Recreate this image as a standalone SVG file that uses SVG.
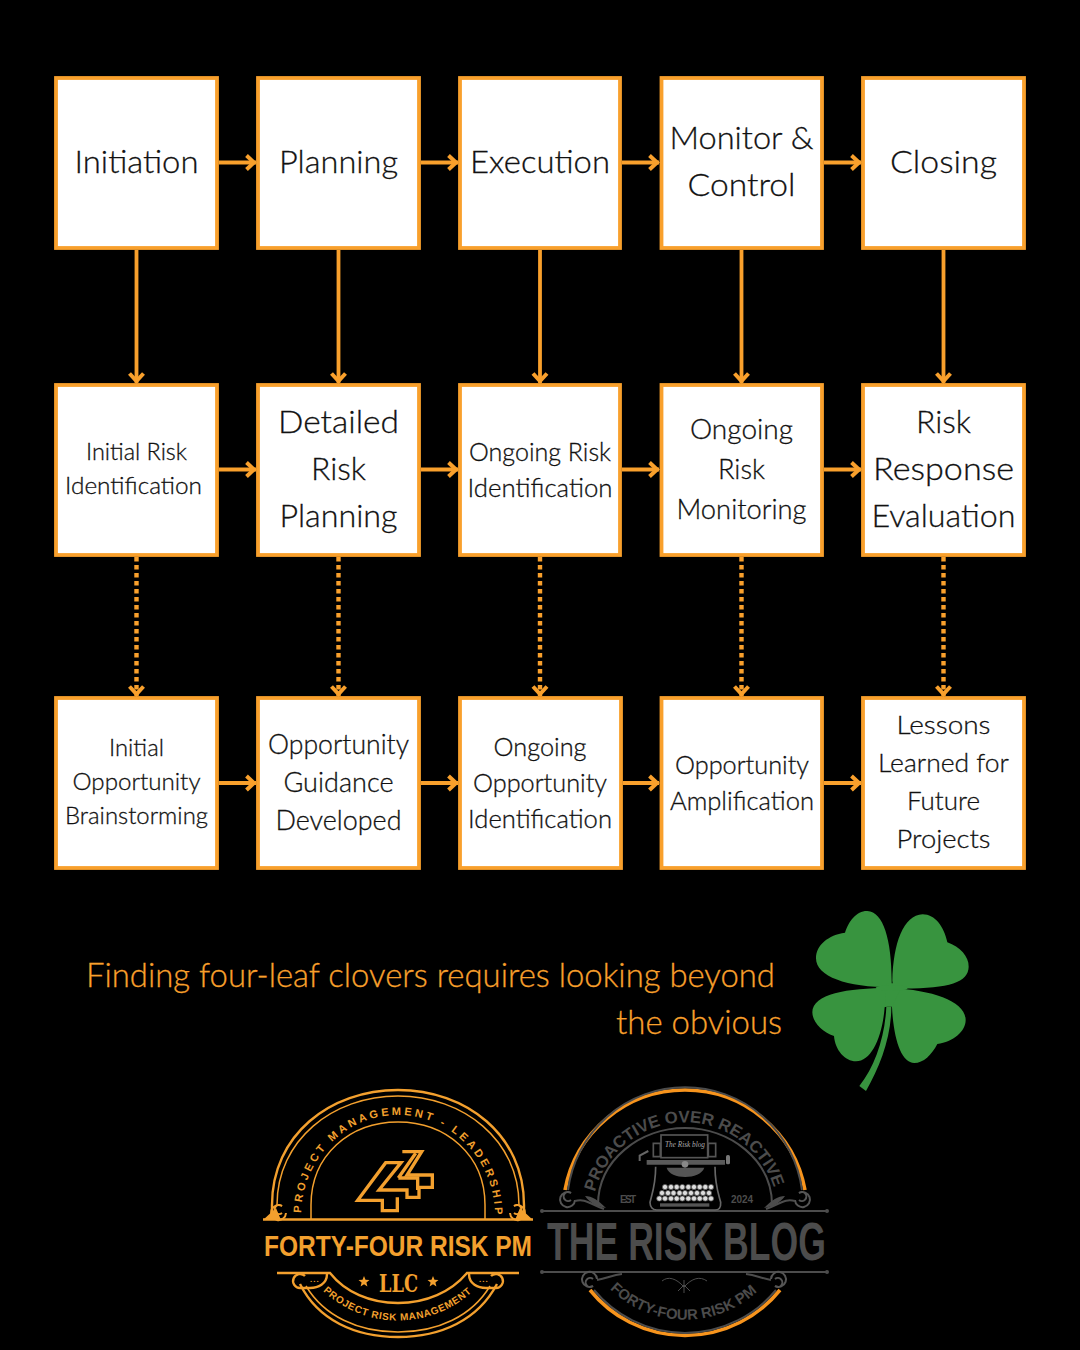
<svg xmlns="http://www.w3.org/2000/svg" xmlns:xlink="http://www.w3.org/1999/xlink" width="1080" height="1350" viewBox="0 0 1080 1350">
<style>
.box{fill:#fff;stroke:#f9a02c;stroke-width:3.8}
.t{font-family:"Lato","Noto Sans",sans-serif;font-weight:300;fill:#111;stroke:#111;stroke-width:.3;text-anchor:middle}
.c{fill:none;stroke:#f9a02c;stroke-width:3.8}
.d{stroke-width:4.4;stroke-dasharray:4.4 3.6}
.cap{font-family:"Lato","Noto Sans",sans-serif;font-weight:300;font-size:33px;fill:#f9a02c;stroke:#f9a02c;stroke-width:.3}
.o{fill:none;stroke:#f3a02e;stroke-width:2.4}
.of{fill:#f3a02e;font-family:"Liberation Sans",sans-serif;font-weight:700}
.g{fill:none;stroke:#4c4c4c;stroke-width:2}
.gf{fill:#4c4c4c;font-family:"Liberation Sans",sans-serif;font-weight:700}
</style>
<defs>
<marker id="v" markerUnits="userSpaceOnUse" markerWidth="20" markerHeight="20" viewBox="-16 -10 20 20" refX="0" refY="0" orient="auto"><path d="M-9.500-7L-2 0L-9.500 7" fill="none" stroke="#f9a02c" stroke-width="4"/></marker>
<path id="arc1" d="M301 1216A97 101 0 0 1 495 1216"/>
<path id="arc1b" d="M323 1291A110 110 0 0 0 473 1291"/>
<path id="arc2" d="M595 1192A93 93 0 0 1 775 1192"/>
<path id="arc2b" d="M610 1289A107 107 0 0 0 760 1289"/>
<circle id="k" r="2.600" fill="#ddd" stroke="#555" stroke-width=".8"/>
<path id="sp" d="M3 3A4.500 4.500 0 1 1 3 -4A7.500 7.500 0 1 0 7 3" fill="none" stroke-width="2"/>
</defs>
<rect width="1080" height="1350" fill="#000"/>
<g id="connectors">
<path class="c" marker-end="url(#v)" d="M219 162.500H256"/><path class="c" marker-end="url(#v)" d="M421 162.500H458"/><path class="c" marker-end="url(#v)" d="M622 162.500H659"/><path class="c" marker-end="url(#v)" d="M824 162.500H861"/>
<path class="c" marker-end="url(#v)" d="M219 469.500H256"/><path class="c" marker-end="url(#v)" d="M421 469.500H458"/><path class="c" marker-end="url(#v)" d="M622 469.500H659"/><path class="c" marker-end="url(#v)" d="M824 469.500H861"/>
<path class="c" marker-end="url(#v)" d="M219 783H256"/><path class="c" marker-end="url(#v)" d="M421 783H458"/><path class="c" marker-end="url(#v)" d="M623 783H659"/><path class="c" marker-end="url(#v)" d="M824 783H861"/>
<path class="c" marker-end="url(#v)" d="M136.500 250V383"/><path class="c" marker-end="url(#v)" d="M338.500 250V383"/><path class="c" marker-end="url(#v)" d="M540 250V383"/><path class="c" marker-end="url(#v)" d="M741.500 250V383"/><path class="c" marker-end="url(#v)" d="M943.500 250V383"/>
<path class="c d" marker-end="url(#v)" d="M136.500 557V696"/><path class="c d" marker-end="url(#v)" d="M338.500 557V696"/><path class="c d" marker-end="url(#v)" d="M540 557V696"/><path class="c d" marker-end="url(#v)" d="M741.500 557V696"/><path class="c d" marker-end="url(#v)" d="M943.500 557V696"/>
</g>
<g id="n-initiation"><rect class="box" x="56" y="78" width="161" height="170"/><text class="t" font-size="32" x="136.500" y="173" textLength="124" lengthAdjust="spacingAndGlyphs">Initiation</text></g>
<g id="n-planning"><rect class="box" x="258" y="78" width="161" height="170"/><text class="t" font-size="32" x="338.500" y="173" textLength="119" lengthAdjust="spacingAndGlyphs">Planning</text></g>
<g id="n-execution"><rect class="box" x="460" y="78" width="160" height="170"/><text class="t" font-size="32" x="540" y="173" textLength="140" lengthAdjust="spacingAndGlyphs">Execution</text></g>
<g id="n-monitor"><rect class="box" x="661.500" y="78" width="160.500" height="170"/><text class="t" font-size="32" x="741.500" y="149" textLength="144" lengthAdjust="spacingAndGlyphs">Monitor &amp;</text><text class="t" font-size="32" x="741.500" y="196" textLength="108" lengthAdjust="spacingAndGlyphs">Control</text></g>
<g id="n-closing"><rect class="box" x="863" y="78" width="161" height="170"/><text class="t" font-size="32" x="943.500" y="173" textLength="107" lengthAdjust="spacingAndGlyphs">Closing</text></g>

<g id="n-initial-risk"><rect class="box" x="56" y="385" width="161" height="170"/><text class="t" font-size="23" x="136.500" y="460" textLength="101" lengthAdjust="spacingAndGlyphs">Initial Risk</text><text class="t" font-size="23" x="133.500" y="494" textLength="137" lengthAdjust="spacingAndGlyphs">Identification</text></g>
<g id="n-detailed"><rect class="box" x="258" y="385" width="161" height="170"/><text class="t" font-size="32" x="338.500" y="433" textLength="121" lengthAdjust="spacingAndGlyphs">Detailed</text><text class="t" font-size="32" x="338.500" y="480" textLength="55" lengthAdjust="spacingAndGlyphs">Risk</text><text class="t" font-size="32" x="338.500" y="527" textLength="118" lengthAdjust="spacingAndGlyphs">Planning</text></g>
<g id="n-ongoing-risk"><rect class="box" x="460" y="385" width="160" height="170"/><text class="t" font-size="25" x="540" y="461" textLength="142" lengthAdjust="spacingAndGlyphs">Ongoing Risk</text><text class="t" font-size="25" x="540" y="497" textLength="145" lengthAdjust="spacingAndGlyphs">Identification</text></g>
<g id="n-ongoing-monitor"><rect class="box" x="661.500" y="385" width="160.500" height="170"/><text class="t" font-size="28" x="741.500" y="439" textLength="103" lengthAdjust="spacingAndGlyphs">Ongoing</text><text class="t" font-size="28" x="741.500" y="479" textLength="47" lengthAdjust="spacingAndGlyphs">Risk</text><text class="t" font-size="28" x="741.500" y="519" textLength="130" lengthAdjust="spacingAndGlyphs">Monitoring</text></g>
<g id="n-response"><rect class="box" x="863" y="385" width="161" height="170"/><text class="t" font-size="32" x="943.500" y="433" textLength="55" lengthAdjust="spacingAndGlyphs">Risk</text><text class="t" font-size="32" x="943.500" y="480" textLength="141" lengthAdjust="spacingAndGlyphs">Response</text><text class="t" font-size="32" x="943.500" y="527" textLength="144" lengthAdjust="spacingAndGlyphs">Evaluation</text></g>

<g id="n-brainstorm"><rect class="box" x="56" y="698" width="161" height="170"/><text class="t" font-size="24" x="136.500" y="756" textLength="55" lengthAdjust="spacingAndGlyphs">Initial</text><text class="t" font-size="24" x="136.500" y="790" textLength="128" lengthAdjust="spacingAndGlyphs">Opportunity</text><text class="t" font-size="24" x="136.500" y="824" textLength="143" lengthAdjust="spacingAndGlyphs">Brainstorming</text></g>
<g id="n-guidance"><rect class="box" x="258" y="698" width="161" height="170"/><text class="t" font-size="27" x="338.500" y="754" textLength="141" lengthAdjust="spacingAndGlyphs">Opportunity</text><text class="t" font-size="27" x="338.500" y="792" textLength="110" lengthAdjust="spacingAndGlyphs">Guidance</text><text class="t" font-size="27" x="338.500" y="830" textLength="126" lengthAdjust="spacingAndGlyphs">Developed</text></g>
<g id="n-ongoing-opp"><rect class="box" x="460" y="698" width="161" height="170"/><text class="t" font-size="25" x="540" y="756" textLength="93" lengthAdjust="spacingAndGlyphs">Ongoing</text><text class="t" font-size="25" x="540" y="792" textLength="134" lengthAdjust="spacingAndGlyphs">Opportunity</text><text class="t" font-size="25" x="540" y="828" textLength="144" lengthAdjust="spacingAndGlyphs">Identification</text></g>
<g id="n-amplify"><rect class="box" x="661.500" y="698" width="160.500" height="170"/><text class="t" font-size="25" x="742" y="774" textLength="134" lengthAdjust="spacingAndGlyphs">Opportunity</text><text class="t" font-size="25" x="742" y="810" textLength="144" lengthAdjust="spacingAndGlyphs">Amplification</text></g>
<g id="n-lessons"><rect class="box" x="863" y="698" width="161" height="170"/><text class="t" font-size="26" x="943.500" y="734" textLength="94" lengthAdjust="spacingAndGlyphs">Lessons</text><text class="t" font-size="26" x="943.500" y="772" textLength="131" lengthAdjust="spacingAndGlyphs">Learned for</text><text class="t" font-size="26" x="943.500" y="810" textLength="73" lengthAdjust="spacingAndGlyphs">Future</text><text class="t" font-size="26" x="943.500" y="848" textLength="94" lengthAdjust="spacingAndGlyphs">Projects</text></g>

<g id="caption"><text class="cap" x="86" y="987" textLength="689" lengthAdjust="spacingAndGlyphs">Finding four-leaf clovers requires looking beyond</text><text class="cap" x="616" y="1034" textLength="166" lengthAdjust="spacingAndGlyphs">the obvious</text></g>

<g id="clover" transform="translate(790 890) scale(.33333)" fill="#38943f">
<path d="M305 272C305 150 280 65 232 63C200 62 175 95 165 128C115 135 78 165 78 205C78 260 170 292 305 292Z"/>
<path d="M307 272C310 160 340 75 398 73C435 73 462 110 472 157C510 170 537 200 536 230C535 280 470 298 310 295Z"/>
<path d="M300 293C170 295 68 310 67 367C67 395 95 425 132 438C135 480 165 514 198 514C245 514 277 440 284 352L300 345Z"/>
<path d="M305 295C430 300 527 335 527 390C527 425 490 455 442 462C425 495 400 519 373 519C335 519 311 450 306 352Z"/>
<path d="M290 280H330V300L306 350H284Z"/>
<ellipse cx="305" cy="294" rx="48" ry="9"/>
<path d="M289 350H304C304 440 270 530 228 603L208 588C255 530 285 440 289 350Z"/>
</g>

<g id="logo-forty-four">
<path class="o" d="M272 1212V1205C272 1135 330 1090 398 1090C466 1090 524 1135 524 1205V1212"/>
<path class="o" style="stroke-width:1.500" d="M277 1205C277 1140 333 1096 398 1096C463 1096 519 1140 519 1205"/>
<path class="o" style="stroke-width:1.500" d="M311 1219V1205C311 1155 350 1122 398 1122C446 1122 485 1155 485 1205V1219"/>
<path class="o" d="M263 1219.500H533"/>
<path d="M263 1220L276 1208L281 1220ZM533 1220L520 1208L515 1220Z" fill="#f3a02e"/>
<use href="#sp" x="279" y="1210" stroke="#f3a02e"/><use href="#sp" transform="translate(517 1210) scale(-1 1)" stroke="#f3a02e"/>
<text class="of" font-size="11" letter-spacing="3"><textPath xlink:href="#arc1" href="#arc1" startOffset="1%">PROJECT MANAGEMENT - LEADERSHIP</textPath></text>
<g transform="translate(345 1140) scale(.33333)" fill="none" stroke="#f3a02e" stroke-width="10"><path d="M172 35H230L186 105H262V142H222V172H186V150H102L168 68H122L38 181H112V212H157V172"/><path d="M160 114L212 40M160 114H218V150"/></g>
<text class="of" font-size="29" x="264" y="1256" textLength="268" lengthAdjust="spacingAndGlyphs">FORTY-FOUR RISK PM</text>
<path class="o" d="M277 1273H330C345 1292 370 1303 398 1303C426 1303 451 1292 467 1273H519"/>
<path class="o" d="M300 1284C318 1320 355 1337 398 1337C441 1337 478 1320 497 1284"/>
<path class="o" style="stroke-width:1.500" d="M306 1286C324 1316 358 1332 398 1332C438 1332 472 1316 490 1286"/>
<path class="o" d="M327 1274C327 1284 318 1288 310 1288H300A7 7 0 1 1 305 1276M469 1274C469 1284 478 1288 486 1288H496A7 7 0 1 0 491 1276"/>
<text class="of" font-size="8" x="310" y="1282" letter-spacing="1">...</text><text class="of" font-size="8" x="479" y="1282" letter-spacing="1">...</text>
<text font-family="DejaVu Serif,serif" font-weight="700" fill="#f3a02e" font-size="25" x="379" y="1292" textLength="39" lengthAdjust="spacingAndGlyphs">LLC</text>
<path d="M364 1276l1.500 3.800 4 .2-3.100 2.500 1 4-3.400-2.200-3.400 2.200 1-4-3.100-2.500 4-.2zM433 1276l1.500 3.800 4 .2-3.100 2.500 1 4-3.400-2.200-3.400 2.200 1-4-3.100-2.500 4-.2z" fill="#f3a02e"/>
<text class="of" font-size="10" letter-spacing=".6"><textPath xlink:href="#arc1b" href="#arc1b">PROJECT RISK MANAGEMENT</textPath></text>
</g>

<g id="logo-risk-blog">
<path d="M565 1190A122 122 0 0 1 805 1190M590 1290A122 122 0 0 0 780 1290" fill="none" stroke="#f7941d" stroke-width="3.600"/>
<path class="g" d="M568 1190A118 118 0 0 1 802 1190M594 1290A118 118 0 0 0 776 1290"/>
<path class="g" d="M598 1207V1205C598 1160 640 1128 685 1128C730 1128 772 1160 772 1205V1207"/>
<path class="g" d="M542 1211H827M542 1272H827"/><circle cx="542" cy="1211" r="2" fill="#4c4c4c"/><circle cx="827" cy="1211" r="2" fill="#4c4c4c"/><circle cx="542" cy="1272" r="2" fill="#4c4c4c"/><circle cx="827" cy="1272" r="2" fill="#4c4c4c"/>
<use href="#sp" x="568" y="1197" stroke="#555"/><use href="#sp" transform="translate(802 1197) scale(-1 1)" stroke="#555"/><use href="#sp" transform="translate(590 1282) scale(1 -1)" stroke="#555"/><use href="#sp" transform="translate(778 1282) scale(-1 -1)" stroke="#555"/>
<path class="g" d="M575 1201C585 1198 590 1204 604 1209M795 1201C785 1198 780 1204 766 1209M597 1280C608 1278 612 1275 622 1274M771 1280C760 1278 756 1275 746 1274"/>
<path d="M585 1196C592 1196 598 1200 606 1208C596 1206 590 1203 585 1196ZM785 1196C778 1196 772 1200 764 1208C774 1206 780 1203 785 1196Z" fill="#4c4c4c"/>
<text class="gf" font-size="16.800"><textPath xlink:href="#arc2" href="#arc2">PROACTIVE OVER REACTIVE</textPath></text>
<text class="gf" font-size="10" x="620" y="1203" textLength="16" lengthAdjust="spacing">EST</text><text class="gf" font-size="10" x="731" y="1203" textLength="22" lengthAdjust="spacing">2024</text>
<text class="gf" font-size="53" x="547" y="1260" textLength="279" lengthAdjust="spacingAndGlyphs">THE RISK BLOG</text>
<text class="gf" font-size="14.800"><textPath xlink:href="#arc2b" href="#arc2b">FORTY-FOUR RISK PM</textPath></text>
<path class="g" style="stroke-width:1" d="M662 1281C668 1276 676 1278 684 1287C692 1278 700 1276 707 1281M684 1280V1293M678 1291L684 1285L690 1291"/>
<g transform="translate(625 1125) scale(.33333)">
<rect x="108" y="30" width="140" height="68" fill="#000" stroke="#555" stroke-width="5"/>
<path d="M85 55H106V95H85ZM250 55H272V95H250Z" fill="none" stroke="#555" stroke-width="5"/>
<path d="M65 112H300" stroke="#5a5a5a" stroke-width="14"/>
<path d="M70 78L44 92V108" fill="none" stroke="#666" stroke-width="6"/><rect x="303" y="90" width="12" height="28" rx="5" fill="#777"/>
<path d="M125 128C135 165 225 165 238 128Z" fill="#555"/><circle cx="180" cy="118" r="10" fill="#888"/>
<path d="M92 125C92 180 80 210 75 232C75 248 85 255 95 255H270C282 255 288 248 287 232C280 205 270 180 270 125" fill="none" stroke="#666" stroke-width="5"/>
<rect x="105" y="235" width="148" height="10" fill="#555"/>
</g>
<g id="keys"><use href="#k" x="665" y="1187"/><use href="#k" x="671" y="1187"/><use href="#k" x="676.700" y="1187"/><use href="#k" x="682.300" y="1187"/><use href="#k" x="688.300" y="1187"/><use href="#k" x="694" y="1187"/><use href="#k" x="699.700" y="1187"/><use href="#k" x="705.300" y="1187"/><use href="#k" x="711" y="1187"/><use href="#k" x="662" y="1193"/><use href="#k" x="668" y="1193"/><use href="#k" x="673.500" y="1193"/><use href="#k" x="679.500" y="1193"/><use href="#k" x="685" y="1193"/><use href="#k" x="691" y="1193"/><use href="#k" x="697" y="1193"/><use href="#k" x="703" y="1193"/><use href="#k" x="709" y="1193"/><use href="#k" x="659.300" y="1198.500"/><use href="#k" x="665" y="1198.500"/><use href="#k" x="671" y="1198.500"/><use href="#k" x="676.700" y="1198.500"/><use href="#k" x="682.300" y="1198.500"/><use href="#k" x="688.300" y="1198.500"/><use href="#k" x="694" y="1198.500"/><use href="#k" x="699.700" y="1198.500"/><use href="#k" x="705.300" y="1198.500"/><use href="#k" x="711" y="1198.500"/></g>
<text font-family="Liberation Serif,serif" font-style="italic" font-size="8.500" fill="#aaa" x="665" y="1147" textLength="40" lengthAdjust="spacingAndGlyphs">The Risk blog</text>
</g>
</svg>
